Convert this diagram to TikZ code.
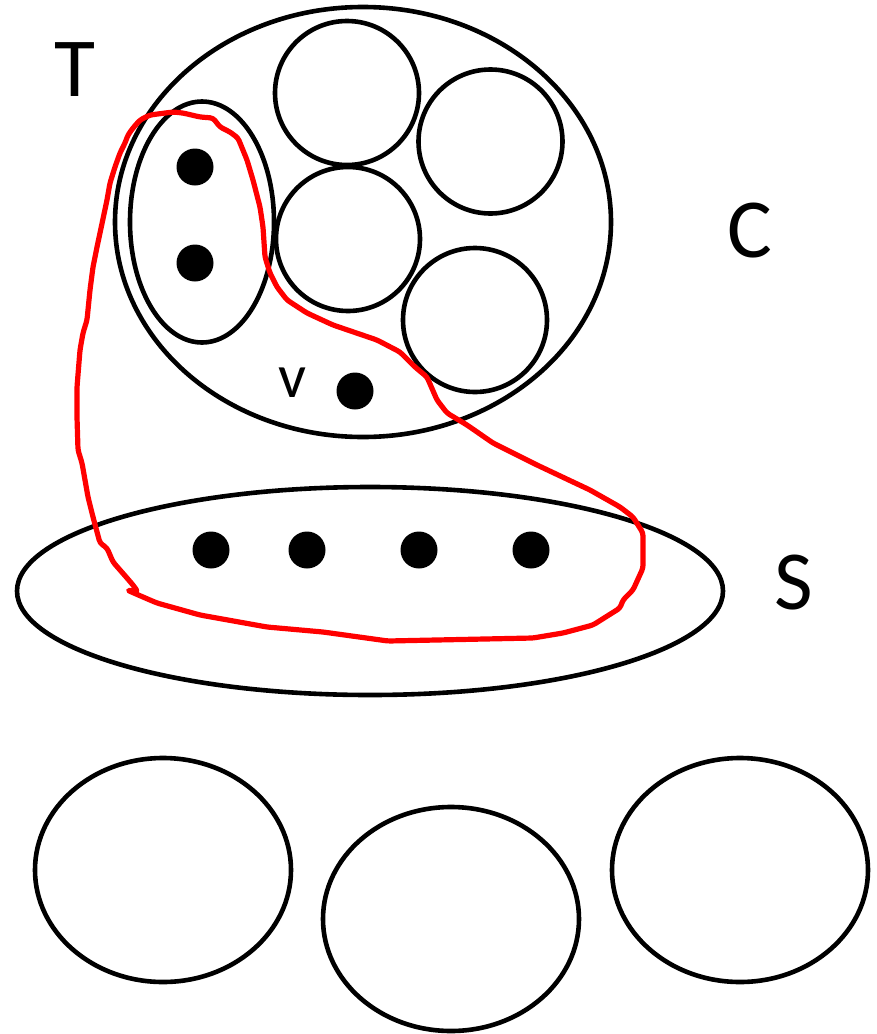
\documentclass[tikz,border=0pt]{standalone}
\usepackage{fontspec}
\setmainfont{Carlito}
\usetikzlibrary{shapes.geometric}
\tikzset{
  blk/.style={draw=black, line width=4.6pt},
  ring/.style={blk, circle, minimum size=144pt, inner sep=0pt},
  oval/.style={blk, ellipse, inner sep=0pt},
  dot/.style={circle, fill=black, minimum size=37pt, inner sep=0pt},
  lbl/.style={inner sep=0pt, font=\fontsize{84}{90}\selectfont},
  loop/.style={draw=red, line width=5.2pt, line join=round, line cap=round, rounded corners=3pt}
}
\begin{document}
\begin{tikzpicture}[x=1pt,y=-1pt]
\useasboundingbox (0,0) rectangle (877,1034);
% big set C
\node[oval, minimum width=496pt, minimum height=430pt] (C) at (363,222) {};
\node[oval, minimum width=144pt, minimum height=241pt] (T) at (202,222) {};
\node[ring] (c1) at (347,93) {};
\node[ring] (c2) at (490.5,141.5) {};
\node[ring] (c3) at (348,239) {};
\node[ring] (c4) at (475,320) {};
\node[dot] (t1) at (195,167) {};
\node[dot] (t2) at (195,263) {};
\node[dot] (v) at (355,391) {};
\node[inner sep=0pt, font=\fontsize{62}{70}\selectfont] (vl) at (292,383) {v};
% set S
\node[oval, minimum width=706pt, minimum height=208pt] (S) at (370,591) {};
\node[dot] (s1) at (211,550) {};
\node[dot] (s2) at (307,550) {};
\node[dot] (s3) at (419,550) {};
\node[dot] (s4) at (531,550) {};
% labels
\node[lbl] (Tl) at (75,70) {T};
\node[lbl] (Cl) at (750,231) {C};
\node[lbl] (Sl) at (794,583) {S};
% bottom ovals
\node[oval, minimum width=256pt, minimum height=224pt] (b1) at (163,870) {};
\node[oval, minimum width=256pt, minimum height=224pt] (b2) at (451,919) {};
\node[oval, minimum width=256pt, minimum height=224pt] (b3) at (740,870) {};
% red loop
\draw[loop] (78,450) -- (82,463) -- (88,497) -- (93,517) -- (100,543) -- (107,548)
  -- (113,562) -- (120,570) -- (127,578) -- (133,585) -- (138,592) -- (127,590)
  -- (143,597) -- (157,603) -- (200,615) -- (267,627) -- (323,632) -- (388,641)
  -- (533,638) -- (563,633) -- (593,625) -- (620,608) -- (623,600) -- (633,590)
  -- (643,568) -- (643,533) -- (633,517) -- (620,507) -- (590,490) -- (573,482)
  -- (537,465) -- (513,453) -- (493,443) -- (467,425) -- (447,413) -- (437,400)
  -- (427,377) -- (415,367) -- (400,352) -- (377,340) -- (333,325) -- (307,313)
  -- (287,300) -- (277,287) -- (270,273) -- (265,257) -- (263,227) -- (260,207)
  -- (253,180) -- (247,160) -- (238,138) -- (230,132) -- (220,127) -- (213,118)
  -- (200,117) -- (183,113) -- (173,112) -- (150,115) -- (140,120) -- (133,128)
  -- (128,135) -- (125,143) -- (120,153) -- (115,167) -- (110,183) -- (107,200)
  -- (100,233) -- (97,247) -- (93,267) -- (90,290) -- (87,320) -- (83,333)
  -- (80,350) -- (77,387) -- (77,417) -- cycle;
\end{tikzpicture}
\end{document}
